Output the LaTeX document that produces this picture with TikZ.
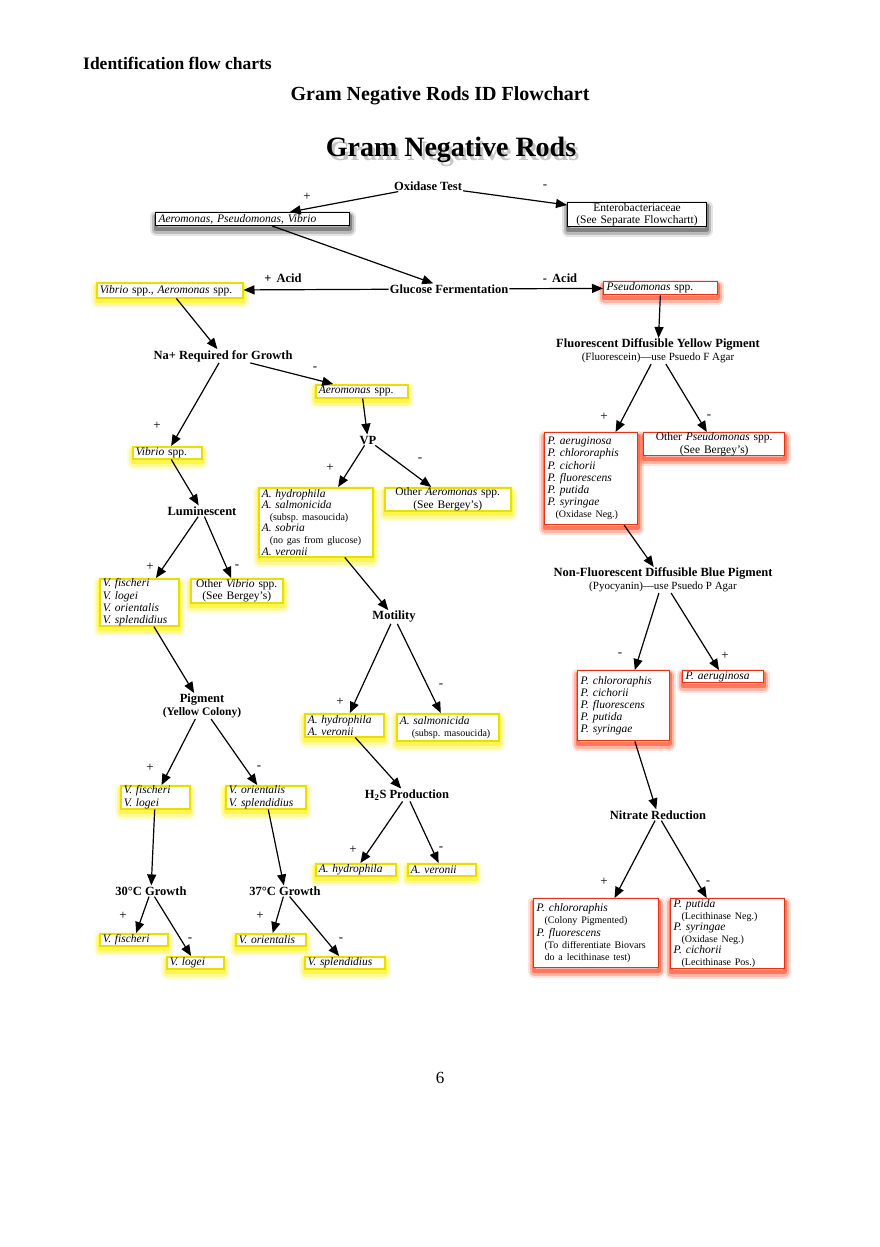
\documentclass[tikz,border=0pt]{standalone}
\usepackage{fontspec}
\setmainfont{Liberation Serif}
\usetikzlibrary{arrows.meta}
\definecolor{ybord}{RGB}{232,222,0}
\definecolor{yglow}{RGB}{255,240,0}
\definecolor{rbord}{RGB}{232,48,20}
\definecolor{rglow}{RGB}{255,60,20}
\newcommand\smallnote[1]{{\upshape\fontsize{10}{12}\selectfont\hspace*{8pt}#1}}
\frenchspacing

\begin{document}
\begin{tikzpicture}[x=1pt,y=-1pt,
    head/.style={font=\fontsize{12.5}{12.5}\selectfont\bfseries, inner sep=1pt, align=center},
    sign/.style={font=\fontsize{13}{13}\selectfont, inner sep=0pt},
    arr/.style={-{Triangle[length=11pt,width=9pt]}, line width=1.2pt},
    glow/.style={preaction={draw=#1, draw opacity=.15, line width=12pt, line join=round, transform canvas={yshift=-4pt}},
                 preaction={draw=#1, draw opacity=.28, line width=8pt, line join=round, transform canvas={yshift=-4pt}},
                 preaction={draw=#1, draw opacity=.5, line width=4pt, line join=round, transform canvas={yshift=-3pt}}},
    box/.style={anchor=north west, inner xsep=3pt, inner ysep=0pt, fill=white, align=left,
                font=\fontsize{11.5}{12.2}\selectfont\itshape},
    kbox/.style={box, draw=black, line width=1pt, glow=black!70},
    ybox/.style={box, draw=ybord, line width=1.5pt, glow=yglow},
    rbox/.style={box, draw=rbord, line width=1.3pt, glow=rglow},
    tight/.style={font=\fontsize{11.5}{11.6}\selectfont\itshape}]
\useasboundingbox (0,0) rectangle (880,1247);

% page headings
\node[anchor=west, inner sep=0pt, font=\fontsize{17.5}{18}\selectfont\bfseries] (sect) at (83,63) {Identification flow charts};
\node[font=\fontsize{20}{20}\selectfont\bfseries] (page) at (440,96) {Gram Negative Rods ID Flowchart};
\node[font=\fontsize{28}{28}\selectfont\bfseries, text=black!45, opacity=.5] (titsh) at (454,154) {Gram Negative Rods};
\node[font=\fontsize{28}{28}\selectfont\bfseries] (tit) at (451,150) {Gram Negative Rods};

% tests
\node[head] (oxi) at (428,186) {Oxidase Test};
\node[head] (glu) at (449,289) {Glucose Fermentation};
\node[head] (na) at (223,356) {Na+ Required for Growth};
\node[head] (vp) at (368,440) {VP};
\node[head] (lum) at (202,511) {Luminescent};
\node[head] (mot) at (394,617) {Motility};
\node[head] (pig) at (202,706) {Pigment\\{\fontsize{11.5}{11.5}\selectfont(Yellow Colony)}};
\node[head] (h2s) at (407,795) {H\textsubscript{2}S Production};
\node[head] (g30) at (151,891) {30°C Growth};
\node[head] (g37) at (285,891) {37°C Growth};
\node[head] (fluo) at (658,351) {Fluorescent Diffusible Yellow Pigment\\{\mdseries\fontsize{11}{11}\selectfont(Fluorescein)—use Psuedo F Agar}};
\node[head] (nonf) at (663,580) {Non-Fluorescent Diffusible Blue Pigment\\{\mdseries\fontsize{11}{11}\selectfont(Pyocyanin)—use Psuedo P Agar}};
\node[head] (nit) at (658,815) {Nitrate Reduction};

% results
\node[kbox, text width=188pt, minimum height=13pt] (apv) at (155,212) {Aeromonas, Pseudomonas, Vibrio};
\node[kbox, align=center, text width=133pt, minimum height=24pt] (ent) at (567,202) {\textup{Enterobacteriaceae}\\\textup{(See Separate Flowchartt)}};
\node[ybox, text width=140pt, minimum height=15pt] (vibaer) at (96,282) {Vibrio \textup{spp.}, Aeromonas \textup{spp.}};
\node[rbox, text width=108pt, minimum height=13pt] (pseu) at (603,281) {Pseudomonas \textup{spp.}};
\node[ybox, text width=86pt, minimum height=13pt] (aer) at (315,384) {Aeromonas \textup{spp.}};
\node[ybox, text width=63pt, minimum height=12pt] (vib) at (132,446) {Vibrio \textup{spp.}};
\node[ybox, tight, text width=108pt, minimum height=69pt] (hyd) at (258,487) {A. hydrophila\\A. salmonicida\\\smallnote{(subsp. masoucida)}\\A. sobria\\\smallnote{(no gas from glucose)}\\A. veronii};
\node[ybox, align=center, text width=120pt, minimum height=23pt] (oaer) at (384,487) {\textup{Other} Aeromonas \textup{spp.}\\\textup{(See Bergey's)}};
\node[ybox, text width=73pt, minimum height=47pt] (vlist) at (99,578) {V. fischeri\\V. logei\\V. orientalis\\V. splendidius};
\node[ybox, align=center, text width=86pt, minimum height=24pt] (ovib) at (190,578) {\textup{Other} Vibrio \textup{spp.}\\\textup{(See Bergey's)}};
\node[ybox, text width=73pt, minimum height=23pt] (hv) at (304,713) {A. hydrophila\\A. veronii};
\node[ybox, text width=96pt, minimum height=27pt] (salm) at (396,713) {A. salmonicida\\\smallnote{\hspace*{4pt}(subsp. masoucida)}};
\node[ybox, text width=63pt, minimum height=23pt] (fl) at (120,785) {V. fischeri\\V. logei};
\node[ybox, text width=74pt, minimum height=23pt] (os) at (225,785) {V. orientalis\\V. splendidius};
\node[ybox, text width=74pt, minimum height=12pt] (ah) at (315,863) {A. hydrophila};
\node[ybox, text width=62pt, minimum height=12pt] (av) at (407,863) {A. veronii};
\node[ybox, text width=62pt, minimum height=12pt] (vf) at (99,933) {V. fischeri};
\node[ybox, text width=51pt, minimum height=12pt] (vl) at (166,956) {V. logei};
\node[ybox, text width=64pt, minimum height=12pt] (vo) at (235,933) {V. orientalis};
\node[ybox, text width=74pt, minimum height=12pt] (vs) at (304,956) {V. splendidius};
\node[rbox, text width=87pt, minimum height=92pt] (pl1) at (544,432) {P. aeruginosa\\P. chlororaphis\\P. cichorii\\P. fluorescens\\P. putida\\P. syringae\\\smallnote{(Oxidase Neg.)}};
\node[rbox, align=center, text width=135pt, minimum height=23pt] (ops) at (643,432) {\textup{Other} Pseudomonas \textup{spp.}\\\textup{(See Bergey's)}};
\node[rbox, text width=86pt, minimum height=70pt] (pl2) at (577,670) {P. chlororaphis\\P. cichorii\\P. fluorescens\\P. putida\\P. syringae};
\node[rbox, text width=75pt, minimum height=12pt] (paer) at (682,670) {P. aeruginosa};
\node[rbox, text width=119pt, minimum height=69pt] (nitp) at (533,898) {P. chlororaphis\\\smallnote{(Colony Pigmented)}\\P. fluorescens\\\smallnote{(To differentiate Biovars}\\\smallnote{do a lecithinase test)}};
\node[rbox, tight, text width=108pt, minimum height=70pt] (nitm) at (670,898) {P. putida\\\smallnote{(Lecithinase Neg.)}\\P. syringae\\\smallnote{(Oxidase Neg.)}\\P. cichorii\\\smallnote{(Lecithinase Pos.)}};

% signs
\node[sign] (oxip) at (307,197) {+};
\node[sign] (oxim) at (545,187) {-};
\node[head] (pacid) at (283,278) {+\, Acid};
\node[head] (macid) at (560,278) {-\, Acid};
\node[sign] (nam) at (315,369) {-};
\node[sign] (nap) at (157,426) {+};
\node[sign] (vpp) at (330,468) {+};
\node[sign] (vpm) at (420,460) {-};
\node[sign] (lump) at (150,567) {+};
\node[sign] (lumm) at (237,567) {-};
\node[sign] (motp) at (340,702) {+};
\node[sign] (motm) at (441,686) {-};
\node[sign] (pigp) at (150,768) {+};
\node[sign] (pigm) at (259,768) {-};
\node[sign] (h2sp) at (353,850) {+};
\node[sign] (h2sm) at (441,849) {-};
\node[sign] (g30p) at (123,916) {+};
\node[sign] (g30m) at (190,940) {-};
\node[sign] (g37p) at (260,916) {+};
\node[sign] (g37m) at (341,940) {-};
\node[sign] (fluop) at (604,417) {+};
\node[sign] (fluom) at (709,417) {-};
\node[sign] (nonfm) at (620,655) {-};
\node[sign] (nonfp) at (725,656) {+};
\node[sign] (nitpp) at (604,882) {+};
\node[sign] (nitmm) at (708,883) {-};

\node[font=\fontsize{17}{17}\selectfont] (pgno) at (440,1078) {6};

% arrows
\path[arr] (oxi) edge (apv) edge (ent);
\path[arr] (apv) edge (glu);
\path[arr] (glu) edge (vibaer) edge (pseu);
\path[arr] (vibaer) edge (na);
\path[arr] (na) edge (aer) edge (vib);
\path[arr] (aer) edge (vp);
\path[arr] (vp) edge (hyd) edge (oaer);
\path[arr] (vib) edge (lum);
\path[arr] (lum) edge (vlist) edge (ovib);
\path[arr] (hyd) edge (mot);
\path[arr] (vlist) edge (pig);
\path[arr] (mot) edge (hv) edge (salm);
\path[arr] (pig) edge (fl) edge (os);
\path[arr] (hv) edge (h2s);
\path[arr] (h2s) edge (ah) edge (av);
\path[arr] (fl) edge (g30);
\path[arr] (os) edge (g37);
\path[arr] (g30) edge (vf) edge (vl);
\path[arr] (g37) edge (vo) edge (vs);
\path[arr] (pseu) edge (fluo);
\path[arr] (fluo) edge (pl1) edge (ops);
\path[arr] (pl1) edge (nonf);
\path[arr] (nonf) edge (pl2) edge (paer);
\path[arr] (pl2) edge (nit);
\path[arr] (nit) edge (nitp) edge (nitm);
\end{tikzpicture}
\end{document}
